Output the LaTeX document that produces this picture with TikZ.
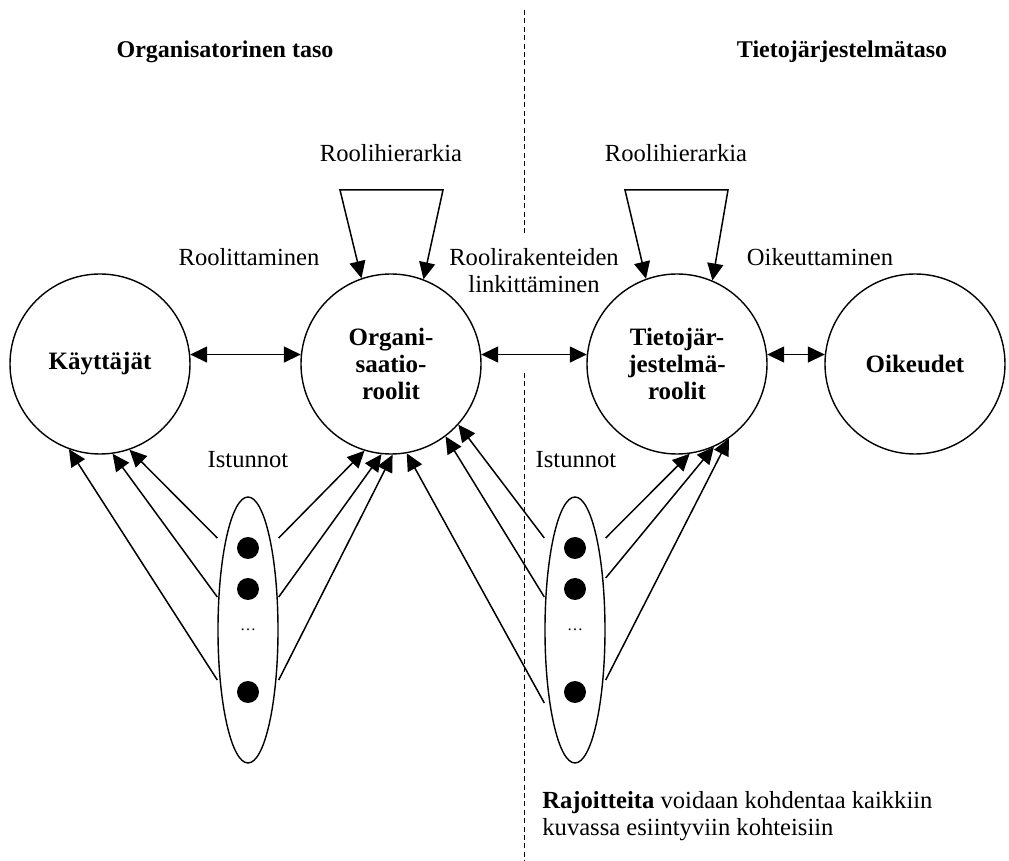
\documentclass[tikz,border=0pt]{standalone}
\usepackage{fontspec}
\setmainfont{Liberation Serif}
\usetikzlibrary{arrows.meta,positioning,shapes.geometric}

\begin{document}
\begin{tikzpicture}[
  x=0.5pt, y=-0.5pt,
  role/.style={draw, circle, minimum size=90pt, inner sep=0pt, line width=0.7pt,
               align=center, font=\fontsize{12.5}{13.5}\selectfont\bfseries},
  sess/.style={draw, ellipse, minimum width=30pt, minimum height=133pt,
               inner sep=0pt, line width=0.7pt},
  dot/.style={circle, fill=black, minimum size=11pt, inner sep=0pt},
  lbl/.style={align=center, font=\fontsize{12.3}{13.5}\selectfont, inner sep=0pt},
  ttl/.style={font=\fontsize{12}{14}\selectfont\bfseries, inner sep=0pt},
  conn/.style={line width=0.75pt},
  divider/.style={line width=0.5pt, dash pattern=on 2.5pt off 1.7pt},
  >={Triangle[length=8.5pt,width=8pt]}]
\useasboundingbox (0,0) rectangle (1009,861);

% roles and permissions
\node[role] (kay) at (100,364) {Käyttäjät};
\node[role] (org) at (391,364) {Organi-\\saatio-\\roolit};
\node[role] (tie) at (677,364) {Tietojär-\\jestelmä-\\roolit};
\node[role] (oik) at (915,364) {Oikeudet};

% sessions
\node[sess] (sesL) at (248,630) {};
\node[sess] (sesR) at (575,630) {};
\foreach \s/\x in {L/248,R/575} {
  \node[dot] (\s a) at (\x,548) {};
  \node[dot] (\s b) at (\x,589) {};
  \node[font=\fontsize{8}{8}\selectfont, inner sep=0pt] (\s c) at (\x,630) {\dots};
  \node[dot] (\s d) at (\x,692) {};
}

% texts
\node[ttl] (tOrg) at (225,52) {Organisatorinen taso};
\node[ttl] (tTie) at (842,52) {Tietojärjestelmätaso};
\node[lbl] (hierL) at (391,153) {Roolihierarkia};
\node[lbl] (hierR) at (676,153) {Roolihierarkia};
\node[lbl] (roolit) at (249,257) {Roolittaminen};
\node[lbl] (linkit) at (534,271) {Roolirakenteiden\\linkittäminen};
\node[lbl] (oikeut) at (820,257) {Oikeuttaminen};
\node[lbl] (istL) at (248,460) {Istunnot};
\node[lbl] (istR) at (576,460) {Istunnot};
\node[lbl, align=left, anchor=north west] (rajo) at (542,791)
  {\textbf{Rajoitteita} voidaan kohdentaa kaikkiin\\kuvassa esiintyviin kohteisiin};

% level divider
\coordinate (dA) at (524,10);
\coordinate (dB) at (524,233);
\coordinate (dC) at (524,373);
\coordinate (dD) at (524,861);
\draw[divider] (dA) -- (dB) (dC) -- (dD);

% role hierarchies
\coordinate (hoL1) at (340,190);
\coordinate (hoL2) at (443,190);
\coordinate (hoR1) at (625,190);
\coordinate (hoR2) at (728,190);
\draw[conn,<->] (org.109) -- (hoL1) -- (hoL2) -- (org.69);
\draw[conn,<->] (tie.110) -- (hoR1) -- (hoR2) -- (tie.67);

% assignments
\draw[conn,<->] (kay.6) -- (org.174);
\draw[conn,<->] (org.6) -- (tie.174);
\draw[conn,<->] (tie.6) -- (oik.174);

% session activations
\foreach \dy/\a in {46/289, 16.5/278, -25/250}
  \draw[conn,->] ([yshift=\dy pt]sesL.west) -- (kay.\a);
\foreach \dy/\a in {46/253, 16.5/264, -25/271}
  \draw[conn,->] ([yshift=\dy pt]sesL.east) -- (org.\a);
\foreach \dy/\a in {46/318, 16.5/307, -36.5/280}
  \draw[conn,->] ([yshift=\dy pt]sesR.west) -- (org.\a);
\foreach \dy/\a in {46/278, 26/294, -25/305}
  \draw[conn,->] ([yshift=\dy pt]sesR.east) -- (tie.\a);
\end{tikzpicture}
\end{document}
